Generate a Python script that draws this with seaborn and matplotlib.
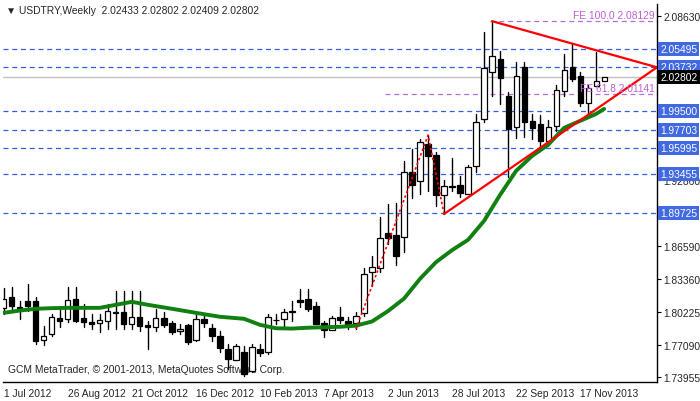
import numpy as np
import pandas as pd
import matplotlib
matplotlib.use('Agg')
import matplotlib.pyplot as plt
import seaborn as sns

# Weekly USDTRY candles
opens = [1.8060, 1.8165, 1.8069, 1.8127, 1.8127, 1.7752, 1.7810, 1.7964, 1.7954, 1.8146,
         1.7964, 1.7925, 1.7916, 1.7935, 1.8021, 1.8021, 1.7906, 1.7973, 1.7896, 1.7877,
         1.7964, 1.7916, 1.7839, 1.7896, 1.7752, 1.7954, 1.7868, 1.7791, 1.7666, 1.7560,
         1.7638, 1.7455, 1.7666, 1.7638, 1.7945, 1.7954, 1.8031, 1.8136, 1.8146, 1.8079,
         1.7916, 1.7848, 1.7973, 1.7935, 1.7916, 1.8012, 1.8405, 1.8444, 1.8780, 1.8760,
         1.8741, 1.9365, 1.9279, 1.9634, 1.9528, 1.9144, 1.9221, 1.9240, 1.9154, 1.9423,
         1.9874, 2.0325, 2.0450, 2.0095, 1.9797, 2.0373, 1.9855, 1.9826, 1.9663, 1.9807,
         2.0142, 2.0373, 2.0287, 2.0028, 2.0191, 2.02433]
closes = [1.8146, 1.8079, 1.8040, 1.8079, 1.7743, 1.7791, 1.7973, 1.7935, 1.8136, 1.7935,
          1.7925, 1.7906, 1.7945, 1.8031, 1.8015, 1.7906, 1.7973, 1.7887, 1.7877, 1.7964,
          1.7896, 1.7829, 1.7858, 1.7733, 1.7954, 1.7916, 1.7791, 1.7676, 1.7570, 1.7695,
          1.7426, 1.7685, 1.7628, 1.7973, 1.7940, 1.8021, 1.8021, 1.8117, 1.8050, 1.7906,
          1.7848, 1.7964, 1.7945, 1.7906, 1.7983, 1.8386, 1.8453, 1.8732, 1.8732, 1.8559,
          1.9365, 1.9240, 1.9653, 1.9519, 1.9144, 1.9231, 1.9226, 1.9164, 1.9413, 1.9845,
          2.0364, 2.0479, 2.0268, 1.9778, 2.0287, 1.9845, 1.9788, 1.9663, 1.9797, 2.0152,
          2.0344, 2.0258, 2.0028, 2.0172, 2.0239, 2.02802]
highs = [1.8252, 1.8261, 1.8127, 1.8290, 1.8165, 1.7887, 1.8002, 1.8050, 1.8261, 1.8261,
         1.8098, 1.8002, 1.8002, 1.8098, 1.8223, 1.8223, 1.8223, 1.8223, 1.7935, 1.8050,
         1.8021, 1.7935, 1.7906, 1.7906, 1.8002, 1.8002, 1.7906, 1.7839, 1.7714, 1.7714,
         1.7695, 1.7714, 1.7714, 1.8002, 1.8002, 1.8050, 1.8127, 1.8242, 1.8242, 1.8117,
         1.7935, 1.7983, 1.8069, 1.7973, 1.8021, 1.8444, 1.8559, 1.8933, 1.9058, 1.9068,
         1.9471, 1.9586, 1.9682, 1.9720, 1.9557, 1.9288, 1.9500, 1.9327, 1.9432, 1.9922,
         2.0709, 2.0813, 2.0527, 2.0133, 2.0421, 2.0421, 1.9922, 1.9912, 1.9864, 2.0200,
         2.0498, 2.0594, 2.0325, 2.0200, 2.0517, 2.02802]
lows = [1.7998, 1.8021, 1.7954, 1.8031, 1.7714, 1.7704, 1.7791, 1.7877, 1.7925, 1.7925,
        1.7877, 1.7858, 1.7829, 1.7858, 1.7858, 1.7858, 1.7858, 1.7839, 1.7666, 1.7839,
        1.7877, 1.7810, 1.7810, 1.7714, 1.7743, 1.7877, 1.7743, 1.7638, 1.7474, 1.7560,
        1.7407, 1.7445, 1.7599, 1.7618, 1.7906, 1.7877, 1.7935, 1.8069, 1.8031, 1.7906,
        1.7781, 1.7848, 1.7916, 1.7858, 1.7858, 1.7983, 1.8271, 1.8405, 1.8674, 1.8472,
        1.8597, 1.9116, 1.9154, 1.9183, 1.9039, 1.8962, 1.9183, 1.9125, 1.9154, 1.9365,
        1.9845, 2.0095, 2.0018, 1.9317, 1.9692, 1.9701, 1.9682, 1.9567, 1.9615, 1.9759,
        2.0095, 2.0239, 1.9999, 1.9932, 2.0191, 2.02409]

# green moving average (week index, value)
ma_idx = [0, 2, 4, 6, 8, 10, 12, 14, 16, 18, 21, 24, 27, 30, 32, 34, 36, 38, 42, 44,
          46, 48, 50, 52, 54, 56, 58, 60, 62, 64, 66, 68, 70, 72, 74, 75]
ma_val = [1.8013, 1.8035, 1.8052, 1.8058, 1.8061, 1.8061, 1.8061, 1.8090, 1.8119, 1.8090,
          1.8052, 1.8013, 1.7975, 1.7956, 1.7898, 1.7865, 1.7862, 1.7870, 1.7879, 1.7890,
          1.7930, 1.8030, 1.8150, 1.8340, 1.8500, 1.8615, 1.8714, 1.8896, 1.9146, 1.9376,
          1.9520, 1.9626, 1.9789, 1.9856, 1.9923, 1.9971]

levels = [2.05495, 2.03732, 1.99500, 1.97703, 1.95995, 1.93455, 1.89725]
fe_levels = [2.08129, 2.01141]
fe_names = ['FE 100.0', 'FE 61.8']
fe_start = [60.8, 47.6]

zig_x = [44, 53, 55]
zig_y = [1.7858, 1.9720, 1.8962]
tri_upper_x = [61, 81.6]
tri_upper_y = [2.0813, 2.0370]
tri_lower_x = [55, 81.6]
tri_lower_y = [1.8962, 2.0370]

date_labels = ['1 Jul 2012', '26 Aug 2012', '21 Oct 2012', '16 Dec 2012', '10 Feb 2013',
               '7 Apr 2013', '2 Jun 2013', '28 Jul 2013', '22 Sep 2013', '17 Nov 2013']
ytick_vals = [1.73955, 1.77090, 1.80225, 1.83360, 1.86590, 1.92860, 2.02880, 2.08630]
last_price = 2.02802

sns.set_style('white')
plt.rcParams['font.family'] = ['Liberation Sans', 'DejaVu Sans']
FS = 7.4

fig = plt.figure(figsize=(7, 4.02), dpi=100)
ax = fig.add_axes([3 / 700, 19 / 402, 654 / 700, 378 / 402])

# levels
for lv in levels:
    ax.axhline(lv, color='#3060e0', ls=(0, (4, 3)), lw=0.9, zorder=1)
for lv, st in zip(fe_levels, fe_start):
    ax.plot([st, 90], [lv, lv], color='#b070d0', ls=(0, (4, 3)), lw=0.9, zorder=1)
ax.axhline(last_price, color='#c0c0c0', lw=1, zorder=1)

# candles
n = len(opens)
for i in range(n):
    o, c, h, l = opens[i], closes[i], highs[i], lows[i]
    ax.plot([i, i], [l, h], color='black', lw=1, zorder=3)
    bottom, top = min(o, c), max(o, c)
    ax.bar(i, max(top - bottom, 0.0006), bottom=bottom, width=0.65,
           color='white' if c >= o else 'black', edgecolor='black', lw=0.9, zorder=4)

ma = pd.DataFrame({'idx': ma_idx, 'val': ma_val})
sns.lineplot(data=ma, x='idx', y='val', ax=ax, color='#108010', lw=2.8, zorder=5)

ax.plot(zig_x, zig_y, color='red', ls=(0, (1.5, 1.5)), lw=1.2, zorder=5)
ax.plot(tri_upper_x, tri_upper_y, color='red', lw=1.6, zorder=6)
ax.plot(tri_lower_x, tri_lower_y, color='red', lw=1.6, zorder=6)

ax.set_xlim(-0.1, 81.6)
ax.set_ylim(1.7349, 2.0978)
ax.set_xticks(range(0, 80, 8))
ax.set_xticklabels(date_labels, fontsize=FS, ha='left')
ax.yaxis.tick_right()
ax.set_yticks(ytick_vals)
ax.set_yticklabels([f'{v:.5f}' for v in ytick_vals], fontsize=FS)
ax.tick_params(length=3, width=0.8, color='black', pad=1.5)
ax.set_xlabel('')
ax.set_ylabel('')
for s in ['top', 'left']:
    ax.spines[s].set_visible(False)
for s in ['right', 'bottom']:
    ax.spines[s].set_color('black')
    ax.spines[s].set_linewidth(1)

trans = ax.get_yaxis_transform()
for lv in levels:
    ax.text(1.005, lv, f'{lv:.5f}', transform=trans, fontsize=FS, color='white',
            va='center', ha='left', clip_on=False,
            bbox=dict(boxstyle='square,pad=0.2', fc='#4169e1', ec='none'), zorder=10)
ax.text(1.005, last_price, f'{last_price:.5f}', transform=trans, fontsize=FS, color='white',
        va='center', ha='left', clip_on=False,
        bbox=dict(boxstyle='square,pad=0.2', fc='black', ec='none'), zorder=11)

ax.text(81.3, fe_levels[0] + 0.001, f'{fe_names[0]} {fe_levels[0]:.5f}', color='#c060d0',
        fontsize=FS, ha='right', va='bottom', zorder=8)
ax.text(81.3, fe_levels[1] + 0.001, f'{fe_names[1]} {fe_levels[1]:.5f}', color='#c060d0',
        fontsize=FS, ha='right', va='bottom', zorder=8)

fig.text(6 / 700, 1 - 11 / 402, '\u25bc USDTRY,Weekly  2.02433 2.02802 2.02409 2.02802',
         fontsize=FS, va='center')
ax.text(0.008, 0.02, 'GCM MetaTrader, \u00a9 2001-2013, MetaQuotes Software Corp.',
        transform=ax.transAxes, fontsize=FS, va='bottom')

fig.savefig('out.png', dpi=100, facecolor='white')
